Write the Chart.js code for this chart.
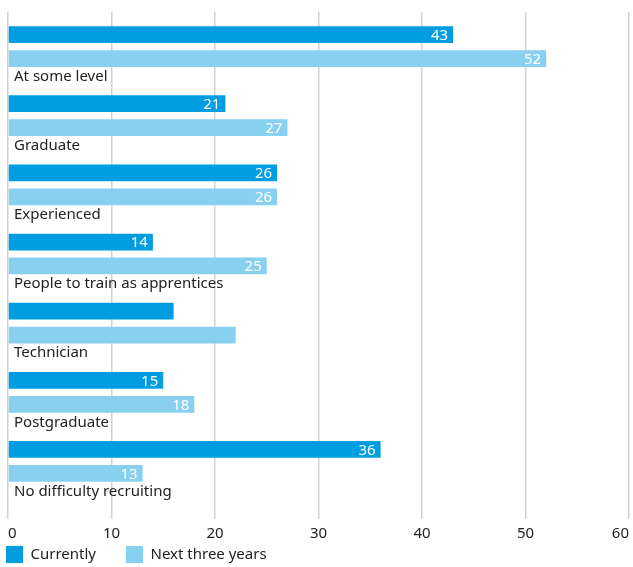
<!DOCTYPE html>
<html>
<head>
<meta charset="utf-8">
<title>Recruitment difficulties</title>
<script src="https://cdn.jsdelivr.net/npm/chart.js@4/dist/chart.umd.min.js"></script>
<style>
  html, body { margin: 0; padding: 0; background: #fff; }
  canvas { display: block; }
</style>
</head>
<body>
<canvas id="chart" width="633" height="567"></canvas>
<script>
// ---------------------------------------------------------------------------
// Data
// ---------------------------------------------------------------------------
const categories = [
  'At some level',
  'Graduate',
  'Experienced',
  'People to train as apprentices',
  'Technician',
  'Postgraduate',
  'No difficulty recruiting'
];
const currently = [43, 21, 26, 14, 16, 15, 36];
const nextThreeYears = [52, 27, 26, 25, 22, 18, 13];
// the technician row carries no value labels in the original
const showValues = [true, true, true, true, false, true, true];
const xTicks = [0, 10, 20, 30, 40, 50, 60];

// ---------------------------------------------------------------------------
// Styling
// ---------------------------------------------------------------------------
const COLORS = {
  currently: '#009ee0',
  next: '#88d0f0',
  text: '#222222',
  grid: '#d2d2d2'
};
const FONT_FAMILY = '"Noto Sans", "Open Sans", sans-serif';

Chart.defaults.font.family = FONT_FAMILY;
Chart.defaults.font.size = 15;
Chart.defaults.color = COLORS.text;

// value at the end of each bar, white, inside
const barValues = {
  id: 'barValues',
  afterDatasetsDraw(chart) {
    const ctx = chart.ctx;
    ctx.save();
    ctx.font = `15px ${FONT_FAMILY}`;
    ctx.fillStyle = '#ffffff';
    ctx.textAlign = 'right';
    ctx.textBaseline = 'middle';
    chart.data.datasets.forEach((ds, di) => {
      chart.getDatasetMeta(di).data.forEach((bar, i) => {
        if (!showValues[i]) return;
        ctx.fillText(String(ds.data[i]), bar.x - 5, bar.y + 1);
      });
    });
    ctx.restore();
  }
};

// category name under each pair of bars
const categoryNames = {
  id: 'categoryNames',
  afterDatasetsDraw(chart) {
    const ctx = chart.ctx;
    const y = chart.scales.y;
    ctx.save();
    ctx.font = `15px ${FONT_FAMILY}`;
    ctx.fillStyle = COLORS.text;
    ctx.textAlign = 'left';
    ctx.textBaseline = 'middle';
    categories.forEach((name, i) => {
      ctx.fillText(name, chart.chartArea.left + 6, y.getPixelForValue(i) + 30);
    });
    ctx.restore();
  }
};

// legend padding doubles as the gap between items; pull the box up so the
// swatches sit tight under the tick labels
const legendNudge = {
  id: 'legendNudge',
  afterLayout(chart) {
    const lg = chart.legend;
    if (!lg) return;
    lg.top -= 33;
    lg.bottom -= 33;
  }
};

new Chart(document.getElementById('chart'), {
  type: 'bar',
  data: {
    labels: categories,
    datasets: [
      {
        label: 'Currently',
        data: currently,
        backgroundColor: COLORS.currently,
        borderWidth: 0
      },
      {
        label: 'Next three years',
        data: nextThreeYears,
        backgroundColor: COLORS.next,
        borderWidth: 0
      }
    ]
  },
  options: {
    indexAxis: 'y',
    responsive: false,
    animation: false,
    categoryPercentage: 0.693,
    barPercentage: 0.7,
    layout: {
      padding: { top: 12, right: 4, bottom: -39, left: -24 }
    },
    plugins: {
      tooltip: { enabled: false },
      legend: {
        position: 'bottom',
        align: 'start',
        labels: {
          boxWidth: 17,
          boxHeight: 17,
          padding: 30,
          color: COLORS.text,
          font: { size: 15 }
        }
      }
    },
    scales: {
      x: {
        type: 'linear',
        min: xTicks[0],
        max: xTicks[xTicks.length - 1],
        afterBuildTicks: scale => {
          scale.ticks = xTicks.map(v => ({ value: v }));
        },
        grid: {
          color: COLORS.grid,
          lineWidth: 1.5,
          drawTicks: true,
          tickLength: 23
        },
        border: { display: false },
        ticks: {
          align: 'inner',
          padding: 6,
          color: COLORS.text,
          font: { size: 15 }
        },
        afterFit: scale => {
          scale.paddingLeft = 0;
          scale.paddingRight = 0;
        }
      },
      y: {
        type: 'category',
        grid: { display: false },
        border: { display: false },
        ticks: { display: false },
        afterFit: scale => {
          scale.width = 32;
          scale.paddingTop = 0;
          scale.paddingBottom = 0;
        }
      }
    }
  },
  plugins: [barValues, categoryNames, legendNudge]
});
</script>
</body>
</html>
